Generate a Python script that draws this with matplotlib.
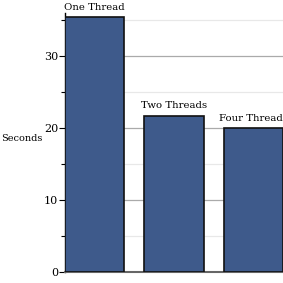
import matplotlib
matplotlib.use("Agg")
import matplotlib.pyplot as plt
from matplotlib.ticker import MultipleLocator

categories = ["One Thread", "Two Threads", "Four Threads"]
seconds = [35.4, 21.7, 20.0]

fig = plt.figure(figsize=(2.83, 2.83), dpi=100)
ax = fig.add_axes([0.2297, 0.0389, 0.7703, 0.915])
x = list(range(len(categories)))
bars = ax.bar(x, seconds, width=0.75, color="#3e5a8b", edgecolor="#111111", linewidth=1.2, zorder=3)
ax.set_xlim(-0.375, 2.375)
ax.set_ylim(0, 36)
ax.yaxis.set_major_locator(MultipleLocator(10))
ax.yaxis.set_minor_locator(MultipleLocator(5))
ax.grid(axis="y", which="major", color="#aaaaaa", linewidth=0.9, zorder=0)
ax.grid(axis="y", which="minor", color="#e8e8e8", linewidth=0.9, zorder=0)
ax.set_xticks([])
for s in ["top", "right"]:
    ax.spines[s].set_visible(False)
ax.spines["bottom"].set_color("#666666")
ax.spines["bottom"].set_linewidth(1.5)
ax.spines["left"].set_linewidth(1.0)
ax.tick_params(axis="y", which="major", length=4, width=0.8, labelsize=8, pad=1)
ax.tick_params(axis="y", which="minor", length=3, width=0.8)
for lab in ax.get_yticklabels():
    lab.set_family("DejaVu Serif")
ax.set_ylabel("Seconds", rotation=0, fontsize=7, family="DejaVu Serif")
ax.yaxis.set_label_coords(-0.295, 0.5)
ax.yaxis.label.set_horizontalalignment("left")
for xi, v, c in zip(x, seconds, categories):
    ax.annotate(c, (xi, v), xytext=(0, 4), textcoords="offset points",
                ha="center", va="bottom", fontsize=7.3, family="DejaVu Serif",
                annotation_clip=False, clip_on=False)
fig.savefig("out.png", dpi=100)
